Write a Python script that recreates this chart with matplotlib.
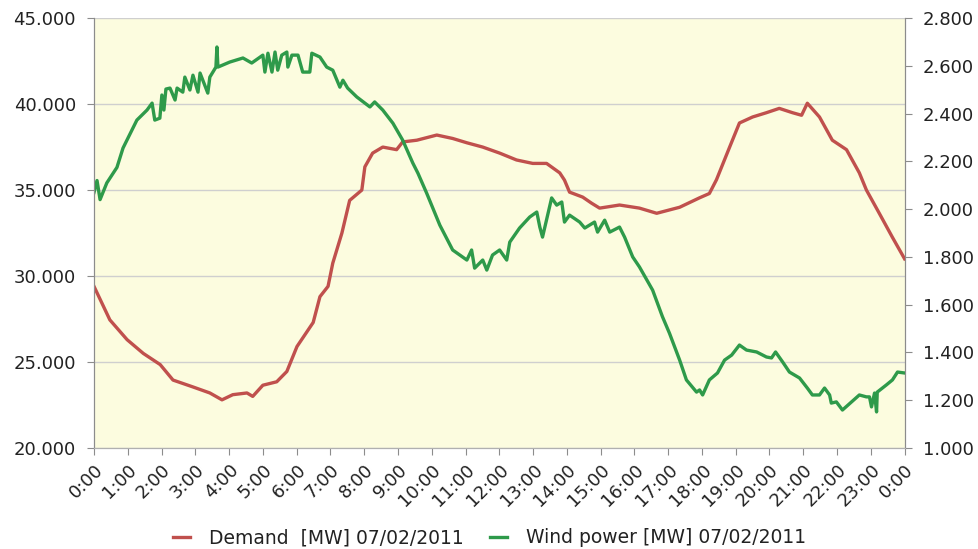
import matplotlib
matplotlib.use("Agg")
import matplotlib.pyplot as plt
from matplotlib.ticker import FuncFormatter, MultipleLocator

# demand (hour of day, MW)
demand_t = [0.00, 0.47, 0.98, 1.46, 1.96, 2.34, 2.93, 3.43, 3.79, 4.11, 4.53, 4.70,
            5.00, 5.41, 5.71, 6.01, 6.49, 6.69, 6.93, 7.07, 7.34, 7.57, 7.93, 8.02,
            8.25, 8.55, 8.96, 9.14, 9.56, 10.15, 10.62, 11.04, 11.51, 12.01, 12.51,
            12.99, 13.40, 13.79, 13.93, 14.08, 14.47, 14.73, 14.97, 15.56, 16.15,
            16.66, 17.34, 17.93, 18.22, 18.43, 18.82, 19.11, 19.50, 19.91, 20.29,
            20.68, 20.95, 21.12, 21.48, 21.86, 22.28, 22.66, 22.87, 23.25, 23.64, 24.0]
demand = [29400, 27450, 26300, 25500, 24850, 23950, 23550, 23200, 22800, 23100, 23200, 23000,
          23650, 23850, 24450, 25900, 27300, 28800, 29400, 30750, 32500, 34400, 35000, 36350,
          37150, 37500, 37350, 37800, 37900, 38200, 38000, 37750, 37500, 37150, 36750,
          36550, 36550, 36000, 35580, 34880, 34590, 34240, 33950, 34130, 33950,
          33650, 34000, 34550, 34800, 35600, 37500, 38900, 39250, 39500, 39750,
          39500, 39350, 40050, 39250, 37900, 37350, 36000, 35000, 33650, 32250, 31000]

# wind power (right axis)
wind_t = [0.00, 0.09, 0.18, 0.38, 0.68, 0.86, 1.27, 1.57, 1.72, 1.80, 1.95, 2.01, 2.07,
          2.13, 2.25, 2.40, 2.46, 2.63, 2.69, 2.84, 2.93, 3.08, 3.14, 3.37, 3.43, 3.61,
          3.64, 3.67, 4.02, 4.41, 4.67, 5.00, 5.06, 5.15, 5.27, 5.36, 5.44, 5.56, 5.71,
          5.74, 5.86, 6.04, 6.18, 6.39, 6.45, 6.69, 6.89, 7.07, 7.28, 7.37, 7.51, 7.78,
          8.17, 8.31, 8.55, 8.85, 9.14, 9.44, 9.59, 9.85, 10.24, 10.62, 11.04, 11.18,
          11.27, 11.51, 11.63, 11.80, 12.01, 12.22, 12.31, 12.60, 12.90, 13.11, 13.20,
          13.28, 13.55, 13.70, 13.85, 13.93, 14.08, 14.38, 14.53, 14.82, 14.91, 15.12,
          15.27, 15.56, 15.71, 15.95, 16.15, 16.54, 16.83, 17.04, 17.34, 17.54, 17.84,
          17.93, 18.02, 18.22, 18.46, 18.67, 18.88, 19.11, 19.32, 19.62, 19.91, 20.06,
          20.18, 20.39, 20.59, 20.89, 21.12, 21.27, 21.48, 21.63, 21.78, 21.83, 21.98,
          22.16, 22.43, 22.66, 22.87, 22.96, 23.02, 23.11, 23.17, 23.19, 23.46, 23.64,
          23.79, 24.0]
wind = [2070, 2120, 2040, 2110, 2175, 2256, 2373, 2415, 2444, 2373, 2381, 2478, 2415,
        2503, 2507, 2457, 2507, 2490, 2553, 2499, 2561, 2490, 2570, 2486, 2553, 2595,
        2679, 2595, 2616, 2633, 2612, 2645, 2574, 2653, 2574, 2658, 2582, 2645, 2658,
        2595, 2645, 2645, 2574, 2574, 2653, 2637, 2595, 2582, 2511, 2540, 2507, 2470,
        2428, 2449, 2415, 2360, 2289, 2193, 2151, 2067, 1933, 1829, 1787, 1829,
        1753, 1787, 1745, 1808, 1829, 1787, 1862, 1921, 1967, 1988, 1925,
        1883, 2047, 2017, 2030, 1946, 1975, 1946, 1921, 1946, 1904, 1954,
        1904, 1925, 1883, 1800, 1758, 1661, 1550, 1480, 1368, 1285, 1234,
        1243, 1222, 1285, 1314, 1368, 1389, 1431, 1410, 1402, 1381, 1377,
        1402, 1360, 1318, 1293, 1251, 1222, 1222, 1251, 1222, 1188, 1193,
        1159, 1193, 1222, 1214, 1214, 1172, 1230, 1151, 1234, 1264, 1285,
        1318, 1314]

hours = list(range(25))
hour_labels = [f"{h % 24}:00" for h in hours]

red = '#C0504D'
green = '#2E9A4A'
txt = '#222222'

fig = plt.figure(figsize=(9.79, 5.49), dpi=100)
ax = fig.add_axes([0.096, 0.184, 0.828, 0.783])
ax.set_facecolor('#FCFCDF')

ax.plot(demand_t, demand, color=red, lw=2.4, label='Demand  [MW] 07/02/2011', zorder=3)
ax.set_xlim(0, 24)
ax.set_ylim(20000, 45000)
ax.yaxis.set_major_locator(MultipleLocator(5000))
ax.yaxis.set_major_formatter(FuncFormatter(lambda v, p: f"{v:,.0f}".replace(",", ".")))
ax.grid(axis='y', color='#CFCFCF', lw=1)
ax.set_axisbelow(True)
ax.set_xticks(hours)
ax.set_xticklabels(hour_labels, rotation=45, ha='right', rotation_mode='anchor')

ax2 = ax.twinx()
ax2.plot(wind_t, wind, color=green, lw=2.4, label='Wind power [MW] 07/02/2011')
ax2.set_ylim(1000, 2800)
ax2.yaxis.set_major_locator(MultipleLocator(200))
ax2.yaxis.set_major_formatter(FuncFormatter(lambda v, p: f"{v:,.0f}".replace(",", ".")))

for a in (ax, ax2):
    a.spines['top'].set_visible(False)
    a.spines['left'].set_color('#8C8C8C')
    a.spines['right'].set_color('#8C8C8C')
    a.spines['bottom'].set_color('#B0B0B0')
    a.tick_params(colors='#8C8C8C', labelcolor=txt, labelsize=13, length=5, direction='out')
ax.tick_params(axis='y', pad=8)
ax2.tick_params(axis='y', pad=8)
ax.tick_params(axis='x', pad=4)

h1, l1 = ax.get_legend_handles_labels()
h2, l2 = ax2.get_legend_handles_labels()
fig.legend(h1 + h2, l1 + l2, loc='lower center', bbox_to_anchor=(0.5, -0.028), ncol=2,
           frameon=False, fontsize=13.5, handlelength=0.9, handletextpad=1.0,
           columnspacing=1.4, labelcolor=txt)

fig.savefig('out.png', dpi=100)
